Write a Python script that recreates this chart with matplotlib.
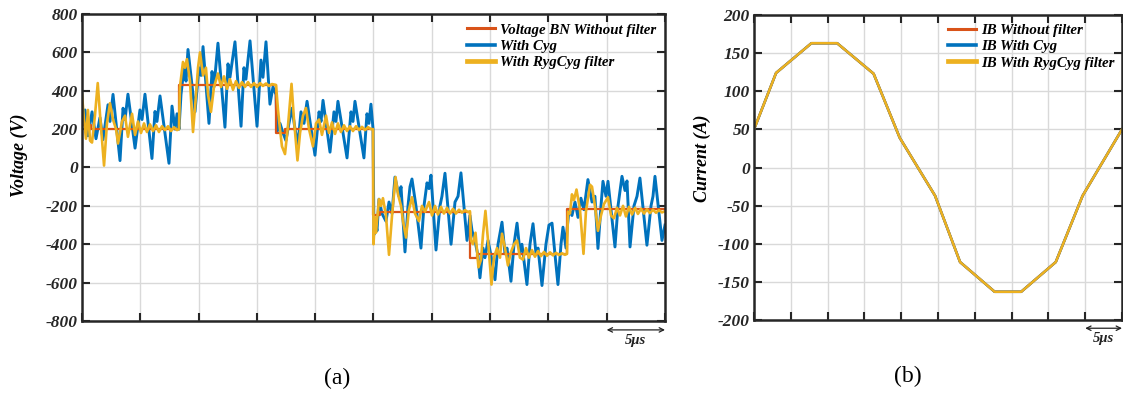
import numpy as np
import matplotlib
matplotlib.use("Agg")
import matplotlib.pyplot as plt
from matplotlib.font_manager import FontProperties

# ---------------- data: (a) line-to-neutral voltage ----------------
# time in microseconds (10 divisions x 5 us)
red_t = [0, 0.77, 8.32, 16.64, 17.41, 24.96, 25.56, 33.27, 33.87, 41.59, 50.0]
red_v = [220, 200, 430, 180, 200, -250, -232, -470, -452, -218, -218]

blue_t = [0, 0.26, 0.51, 0.86, 1.20, 1.54, 1.80, 2.23, 2.40, 2.66, 3.26, 3.52, 3.69, 3.94,
          4.55, 4.97, 5.15, 5.40, 6.00, 6.26, 6.43, 6.69, 7.46, 7.72, 7.98, 8.15, 8.32,
          8.49, 8.75, 8.92, 9.09, 9.43, 9.69, 10.03, 10.21, 10.38, 10.89, 11.15, 11.32, 11.66,
          12.26, 12.52, 12.69, 13.12, 13.64, 13.89, 14.06, 14.41, 15.01, 15.35, 15.52, 15.78,
          16.12, 16.38, 16.64,
          16.72, 16.98, 17.24, 17.49, 17.75, 18.01, 18.27, 18.52, 18.78, 19.04, 19.30, 19.98,
          20.33, 20.50, 20.67, 21.27, 21.61, 21.78, 21.95, 22.73, 23.07, 23.24, 23.41, 24.18,
          24.44, 24.61, 24.78, 24.96,
          25.04, 25.13, 25.30, 25.47, 25.73, 26.07, 26.33, 26.59, 26.84, 27.19, 27.36, 27.70,
          27.96, 28.13, 28.30, 28.64, 29.07, 29.33, 29.59, 29.76, 29.93, 30.36, 30.70, 30.87,
          31.13, 31.65, 31.99, 32.25, 32.50, 33.02, 33.27,
          33.45, 33.70, 33.96, 34.13, 34.39, 34.56, 34.82, 35.08, 35.42, 35.68, 36.02, 36.28,
          36.45, 36.79, 37.05, 37.31, 37.56, 37.73, 38.16, 38.42, 38.68, 38.94, 39.11, 39.45,
          39.79, 40.05, 40.31, 40.56, 40.82, 41.08, 41.25, 41.51, 41.59,
          41.77, 42.02, 42.28, 42.54, 42.79, 43.05, 43.39, 43.74, 43.99, 44.25, 44.51, 44.68,
          44.94, 45.11, 45.71, 45.97, 46.31, 46.57, 46.74, 47.00, 47.34, 47.60, 47.85, 48.45,
          48.80, 48.97, 49.14, 49.74, 50.00]
blue_v = [280, 300, 165, 290, 150, 260, 145, 327, 240, 381, 36, 309, 250, 382,
          101, 300, 250, 382, 47, 292, 240, 373, 22, 320, 200, 280, 200,
          380, 520, 450, 615, 430, 290, 520, 480, 630, 230, 500, 420, 648,
          210, 540, 470, 655, 215, 520, 460, 660, 215, 560, 470, 655,
          330, 420, 380,
          185, 230, 180, 140, 230, 309, 200, 120, 290, 230, 345, 64,
          290, 240, 350, 80, 290, 240, 345, 50, 290, 240, 345, 50,
          280, 230, 330, 200,
          -350, -270, -330, -165, -240, -280, -180, -240, -50, -150, -100, -440,
          -200, -100, -60, -200, -420, -200, -80, -110, -40, -430, -200, -150,
          -30, -400, -180, -150, -28, -380, -250,
          -330, -380, -460, -575, -420, -470, -380, -460, -585, -400, -285, -450,
          -420, -593, -400, -290, -440, -400, -610, -400, -293, -450, -420, -615,
          -400, -300, -290, -450, -610, -400, -311, -420, -330,
          -220, -250, -180, -260, -160, -220, -63, -180, -150, -422, -200, -72,
          -150, -72, -414, -200, -46, -120, -70, -414, -200, -150, -55, -405,
          -200, -150, -46, -380, -300]

yellow_t = [0, 0.17, 0.34, 0.51, 0.69, 0.86, 1.11, 1.35, 1.54, 1.89, 2.14, 2.40, 2.66, 2.92,
            3.09, 3.43, 3.69, 3.94, 4.29, 4.55, 4.80, 5.06, 5.32, 5.57, 5.83, 6.09, 6.35, 6.60,
            6.86, 7.12, 7.38, 7.63, 7.89, 8.15, 8.32,
            8.40, 8.66, 8.83, 9.00, 9.26, 9.52, 9.78, 9.95, 10.12, 10.38, 10.63, 10.81, 11.06,
            11.32, 11.66, 11.92, 12.18, 12.44, 12.69, 12.95, 13.21, 13.46, 13.72, 13.98, 14.24,
            14.49, 14.75, 15.01, 15.27, 15.52, 15.78, 16.04, 16.29, 16.64,
            16.81, 16.98, 17.15, 17.41, 17.67, 17.97, 18.18, 18.48, 18.70, 18.95, 19.21, 19.47,
            19.81, 20.07, 20.33, 20.58, 20.93, 21.18, 21.44, 21.70, 21.95, 22.21, 22.47, 22.73,
            22.98, 23.24, 23.50, 23.76, 24.01, 24.27, 24.53, 24.78, 24.96,
            25.00, 25.13, 25.21, 25.47, 25.64, 25.81, 26.07, 26.33, 26.59, 26.89, 27.10, 27.36,
            27.53, 27.79, 28.04, 28.30, 28.56, 28.90, 29.16, 29.42, 29.76, 30.02, 30.27, 30.53,
            30.79, 31.04, 31.30, 31.56, 31.82, 32.07, 32.33, 32.59, 32.85, 33.10, 33.27,
            33.36, 33.53, 33.75, 34.00, 34.22, 34.39, 34.60, 34.82, 35.12, 35.33, 35.59, 35.85,
            36.02, 36.28, 36.53, 36.79, 37.05, 37.31, 37.56, 37.82, 38.08, 38.33, 38.59, 38.85,
            39.11, 39.36, 39.62, 39.88, 40.14, 40.39, 40.65, 40.91, 41.16, 41.42, 41.59,
            41.68, 41.85, 42.02, 42.19, 42.41, 42.71, 43.01, 43.22, 43.57, 43.74, 43.99, 44.25,
            44.51, 44.77, 45.11, 45.37, 45.62, 45.88, 46.14, 46.40, 46.65, 46.91, 47.17, 47.43,
            47.68, 47.94, 48.20, 48.45, 48.71, 48.97, 49.23, 49.48, 49.74, 50.00]
yellow_v = [380, 250, 150, 300, 140, 130, 270, 440, 280, 10, 230, 335, 250, 200,
            125, 240, 270, 160, 280, 170, 240, 180, 230, 185, 225, 190, 220, 185,
            215, 195, 215, 190, 210, 195, 200,
            420, 550, 520, 565, 450, 185, 380, 520, 600, 480, 520, 380, 290,
            420, 490, 420, 475, 410, 460, 405, 450, 415, 445, 420, 445,
            420, 440, 420, 440, 425, 438, 425, 435, 430,
            300, 200, 110, 70, 220, 436, 250, 37, 180, 270, 310, 200,
            110, 230, 250, 170, 270, 180, 235, 175, 230, 185, 220, 190,
            215, 190, 215, 195, 212, 195, 210, 200, 200,
            -400, -260, -340, -165, -200, -160, -250, -455, -250, -50, -140, -200,
            -280, -365, -220, -155, -240, -280, -200, -230, -180, -250, -200, -245,
            -205, -240, -210, -240, -215, -240, -220, -235, -222, -232, -228,
            -380, -400, -340, -520, -480, -350, -226, -380, -610, -470, -420, -470,
            -345, -420, -510, -440, -400, -380, -470, -480, -420, -470, -430, -465,
            -435, -462, -440, -460, -442, -458, -445, -456, -447, -455, -450,
            -230, -240, -140, -170, -115, -220, -450, -230, -90, -100, -200, -330,
            -250, -190, -155, -250, -265, -210, -250, -200, -255, -205, -245, -210,
            -242, -215, -240, -218, -238, -220, -236, -222, -234, -228]

volt_labels = ["Voltage BN Without filter", "With Cyg", "With RygCyg filter"]
volt_ticks = [-800, -600, -400, -200, 0, 200, 400, 600, 800]

# ---------------- data: (b) phase B current ----------------
ib_t = [0, 3.0, 7.8, 11.3, 16.25, 19.8, 24.6, 28.0, 32.7, 36.3, 41.0, 44.65, 50.0]
ib_without = [50, 124, 163, 163, 123, 39, -37, -124, -163, -163, -124, -37, 50]
ib_cyg = [50, 124, 163, 163, 123, 39, -37, -124, -163, -163, -124, -37, 50]
ib_rygcyg = [50, 124, 163, 163, 123, 39, -37, -124, -163, -163, -124, -37, 50]
curr_labels = ["IB Without filter", "IB With Cyg", "IB With RygCyg filter"]
curr_ticks = [-200, -150, -100, -50, 0, 50, 100, 150, 200]

time_ticks = [0, 5, 10, 15, 20, 25, 30, 35, 40, 45, 50]

# ---------------- style ----------------
C_RED = "#D95319"
C_BLUE = "#0072BD"
C_YEL = "#EDB120"
SERIF = ["Liberation Serif", "DejaVu Serif"]

tick_fp = FontProperties(family=SERIF, style="italic", weight="bold", size=12.5)
lab_fp = FontProperties(family=SERIF, style="italic", weight="bold", size=13)
leg_fp = FontProperties(family=SERIF, style="italic", weight="bold", size=10.7)
bar_fp = FontProperties(family=SERIF, style="italic", weight="bold", size=10.5)
cap_fp = FontProperties(family=SERIF, size=17)

fig = plt.figure(figsize=(11.23, 3.96), dpi=100)
axA = fig.add_axes([82 / 1123, 1 - 321 / 396, 583 / 1123, 307 / 396])
axB = fig.add_axes([754 / 1123, 1 - 320 / 396, 368 / 1123, 305 / 396])


def style_axes(ax, yticks):
    ax.set_xlim(time_ticks[0], time_ticks[-1])
    ax.set_ylim(yticks[0], yticks[-1])
    ax.set_xticks(time_ticks)
    ax.set_yticks(yticks)
    ax.set_xticklabels([])
    ax.set_yticklabels([str(v) for v in yticks], fontproperties=tick_fp)
    ax.grid(True, color="#d9d9d9", linewidth=1.0)
    ax.set_axisbelow(True)
    ax.tick_params(direction="in", length=6, width=1.5, top=True, right=True,
                   pad=3, colors="#262626")
    for s in ax.spines.values():
        s.set_linewidth(1.8)
        s.set_color("#262626")


# (a)
style_axes(axA, volt_ticks)
l_blue, = axA.plot(blue_t, blue_v, color=C_BLUE, lw=2.1, label=volt_labels[1])
l_red, = axA.plot(red_t, red_v, color=C_RED, lw=1.6, drawstyle="steps-post",
                  label=volt_labels[0])
l_yel, = axA.plot(yellow_t, yellow_v, color=C_YEL, lw=1.9, label=volt_labels[2])
axA.set_ylabel("Voltage (V)", fontproperties=lab_fp)
axA.yaxis.set_label_coords(-0.092, 0.54)
leg = axA.legend(handles=[l_red, l_blue, l_yel], loc="upper left",
                 bbox_to_anchor=(0.655, 0.98), frameon=False, prop=leg_fp,
                 handlelength=1.9, handletextpad=0.35, labelspacing=0.2,
                 borderpad=0.2, borderaxespad=0)
for h, w in zip(leg.get_lines(), [2.2, 2.6, 3.4]):
    h.set_linewidth(w)

# (b)
style_axes(axB, curr_ticks)
b_red, = axB.plot(ib_t, ib_without, color=C_RED, lw=1.8, label=curr_labels[0])
b_blue, = axB.plot(ib_t, ib_cyg, color=C_BLUE, lw=1.8, label=curr_labels[1])
b_yel, = axB.plot(ib_t, ib_rygcyg, color=C_YEL, lw=1.8, label=curr_labels[2])
axB.set_ylabel("Current (A)", fontproperties=lab_fp)
axB.yaxis.set_label_coords(-0.116, 0.53)
legB = axB.legend(handles=[b_red, b_blue, b_yel], loc="upper left",
                  bbox_to_anchor=(0.518, 0.982), frameon=False, prop=leg_fp,
                  handlelength=1.9, handletextpad=0.35, labelspacing=0.2,
                  borderpad=0.2, borderaxespad=0)
for h, w in zip(legB.get_lines(), [2.2, 2.6, 3.4]):
    h.set_linewidth(w)

# 5 us scale bars
for ax, y0, y1 in [(axA, -0.029, -0.064), (axB, -0.027, -0.062)]:
    ax.annotate("", xy=(0.9, y0), xytext=(1.0, y0), xycoords="axes fraction",
                textcoords="axes fraction", annotation_clip=False,
                arrowprops=dict(arrowstyle="<->", color="#222222", lw=0.9,
                                shrinkA=0, shrinkB=0, mutation_scale=8))
    ax.text(0.95, y1, "5\u03bcs", transform=ax.transAxes, ha="center", va="center",
            fontproperties=bar_fp, color="#222222")

fig.text(337 / 1123, 1 - 378 / 396, "(a)", ha="center", va="center", fontproperties=cap_fp)
fig.text(908 / 1123, 1 - 376 / 396, "(b)", ha="center", va="center", fontproperties=cap_fp)

fig.savefig("out.png", dpi=100)
